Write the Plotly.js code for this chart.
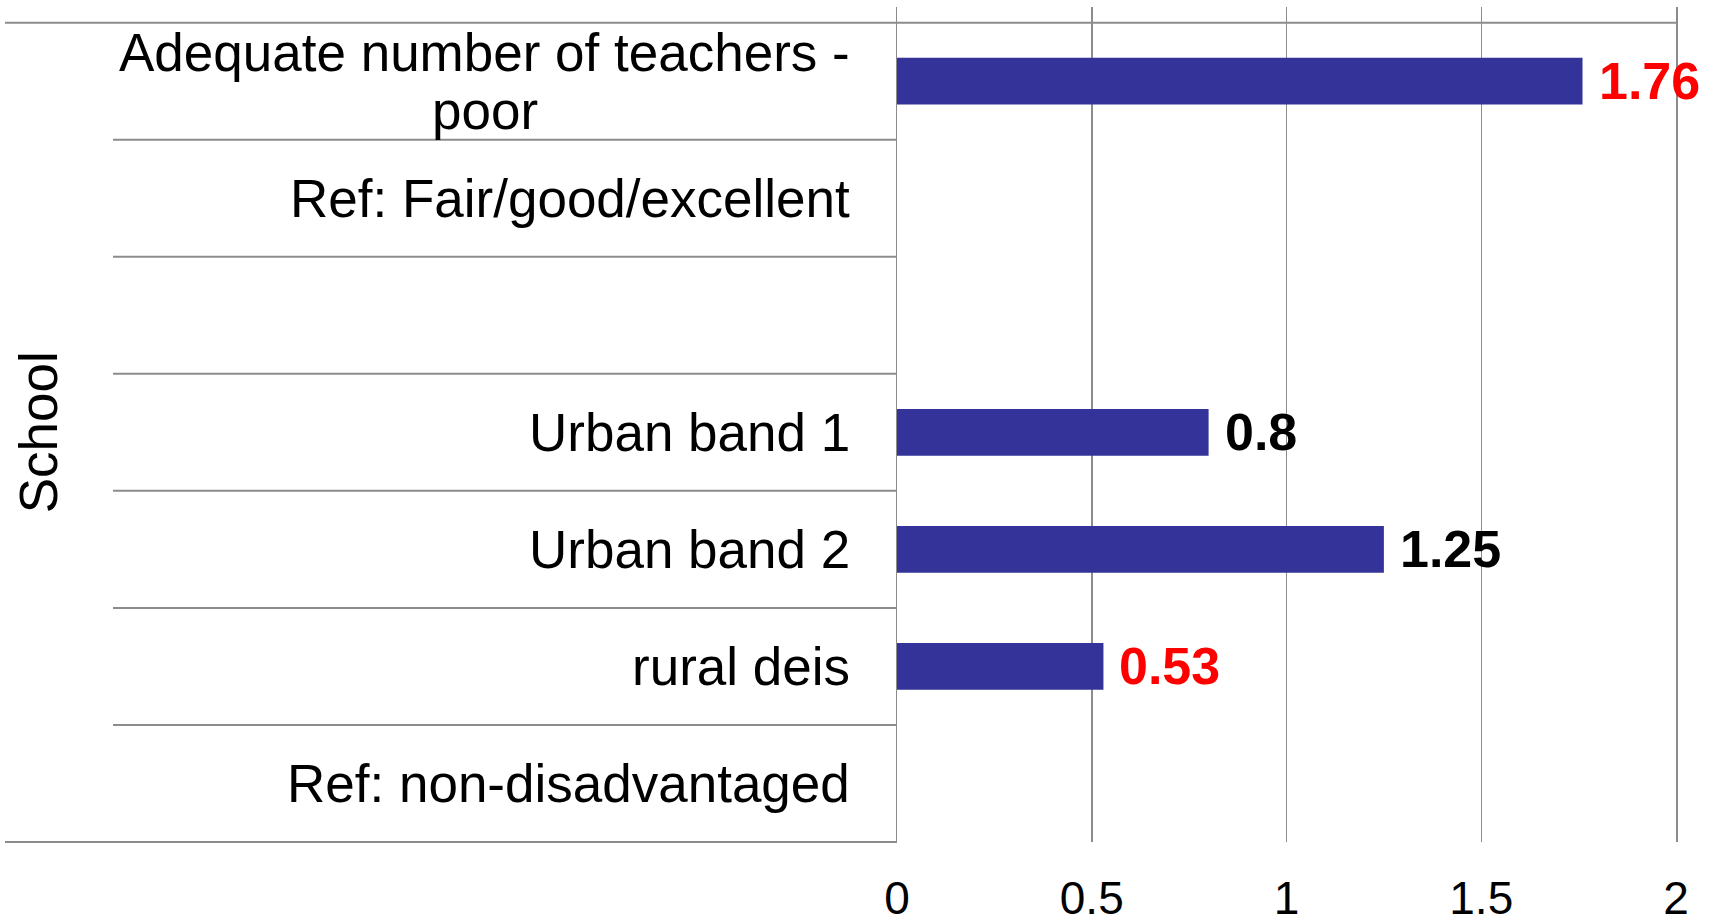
<!DOCTYPE html>
<html>
<head>
<meta charset="utf-8">
<script src="https://cdn.plot.ly/plotly-3.0.1.min.js"></script>
<style>
  html, body { margin: 0; padding: 0; background: #ffffff; }
  #chart { width: 1719px; height: 920px; }
</style>
</head>
<body>
<div id="chart"></div>
<script>
// ---- Data ----
const categories = [
  "Adequate number of teachers -<br>poor",
  "Ref: Fair/good/excellent",
  " ",
  "Urban band 1",
  "Urban band 2",
  "rural deis",
  "Ref: non-disadvantaged"
];
const values = [1.76, null, null, 0.8, 1.25, 0.53, null];
const valueLabels = ["1.76", "", "", "0.8", "1.25", "0.53", ""];
const significant = [true, false, false, false, false, true, false];
const groupLabel = "School";
const xTicks = [0, 0.5, 1, 1.5, 2];
const xTickLabels = ["0", "0.5", "1", "1.5", "2"];

// ---- Style ----
const FONT = '"Liberation Sans", Arial, sans-serif';
const GRID = '#8c8c8c';
const BAR = '#333399';
const W = 1719, H = 920;
const plotLeft = 897, plotRight = 1676, plotTop = 7, plotBottom = 842;
const yBottom = categories.length - 0.5;
const yTop = -0.634;
const yToPaper = b => (yBottom - b) / (yBottom - yTop);
const pxToPaperX = px => (px - plotLeft) / (plotRight - plotLeft);
const LABEL_SIZE = 53;
const LABEL_GAP = 47;     // px between label right edge and axis
const LINE_STEP = 58;     // px between lines of a wrapped category label

// text width measurement (for centring wrapped label lines)
const ctx = document.createElement('canvas').getContext('2d');
ctx.font = LABEL_SIZE + 'px "Liberation Sans", Arial, sans-serif';
const textW = s => ctx.measureText(s).width;

const trace = {
  type: 'bar',
  orientation: 'h',
  y: categories.map((c, i) => i),
  x: values,
  width: 0.4,
  marker: { color: BAR, line: { width: 0 } },
  hoverinfo: 'skip'
};

const shapes = [];
shapes.push({ type: 'line', xref: 'paper', yref: 'paper',
  x0: pxToPaperX(5), x1: 1, y0: yToPaper(-0.5), y1: yToPaper(-0.5),
  line: { color: GRID, width: 2 } });
for (let i = 0; i < categories.length - 1; i++) {
  const b = i + 0.5;
  shapes.push({ type: 'line', xref: 'paper', yref: 'paper',
    x0: pxToPaperX(113), x1: 0, y0: yToPaper(b), y1: yToPaper(b),
    line: { color: GRID, width: 2 } });
}
shapes.push({ type: 'line', xref: 'paper', yref: 'paper',
  x0: pxToPaperX(5), x1: 0, y0: yToPaper(yBottom), y1: yToPaper(yBottom),
  line: { color: GRID, width: 2 } });

const annotations = [];
categories.forEach((c, i) => {
  if (c.trim() === '') return;
  const lines = c.split('<br>');
  const maxW = Math.max(...lines.map(textW));
  lines.forEach((ln, j) => {
    annotations.push({
      xref: 'paper', yref: 'y', x: 0, y: i,
      xanchor: 'center', yanchor: 'middle',
      xshift: -LABEL_GAP - maxW / 2,
      yshift: ((lines.length - 1) / 2 - j) * LINE_STEP,
      text: ln, showarrow: false,
      font: { family: FONT, size: LABEL_SIZE, color: '#000000' }
    });
  });
});
values.forEach((v, i) => {
  if (v === null) return;
  annotations.push({
    xref: 'x', yref: 'y', x: v, y: i,
    xanchor: 'left', yanchor: 'middle', xshift: 14,
    text: '<b>' + valueLabels[i] + '</b>', showarrow: false,
    font: { family: FONT, size: 52, color: significant[i] ? '#ff0000' : '#000000' }
  });
});
annotations.push({
  xref: 'paper', yref: 'y', x: pxToPaperX(38), y: (categories.length - 1) / 2,
  xanchor: 'center', yanchor: 'middle', textangle: -90,
  text: groupLabel, showarrow: false,
  font: { family: FONT, size: 53, color: '#000000' }
});

const layout = {
  width: W, height: H,
  margin: { l: plotLeft, r: W - plotRight, t: plotTop, b: H - plotBottom, pad: 0 },
  paper_bgcolor: '#ffffff',
  plot_bgcolor: '#ffffff',
  showlegend: false,
  font: { family: FONT, color: '#000000' },
  xaxis: {
    range: [0, 2],
    tickvals: xTicks,
    ticktext: xTickLabels,
    showgrid: true, gridcolor: GRID, gridwidth: 1.5,
    zeroline: false, showline: false,
    ticks: '', ticklabelstandoff: 25,
    tickfont: { family: FONT, size: 46, color: '#000000' },
    fixedrange: true
  },
  yaxis: {
    range: [yBottom, yTop],
    showticklabels: false, showgrid: false, zeroline: false,
    showline: true, mirror: true, linecolor: GRID, linewidth: 1.5,
    ticks: '', fixedrange: true
  },
  shapes: shapes,
  annotations: annotations,
  bargap: 0.6
};

Plotly.newPlot('chart', [trace], layout, { displayModeBar: false, staticPlot: true });
</script>
</body>
</html>
